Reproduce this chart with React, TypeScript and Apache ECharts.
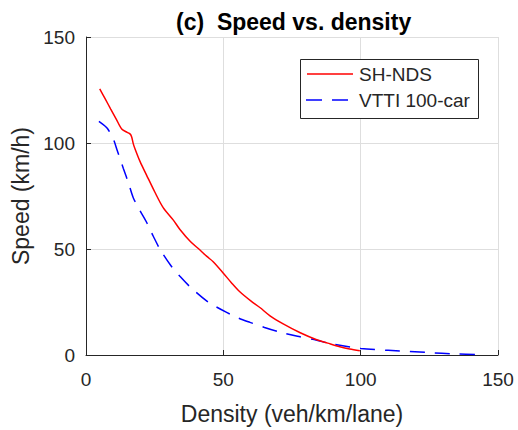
import React, { useEffect, useRef } from "react";
import * as echarts from "echarts";

const titleText = "(c)  Speed vs. density";
const xName = "Density (veh/km/lane)";
const yName = "Speed (km/h)";
const seriesNames = ["SH-NDS", "VTTI 100-car"];

const shDensity = [5, 7, 9, 11, 13, 15, 16, 16.6, 17.2, 17.8, 19.7, 22, 25, 28.1, 31.8, 34.2, 38, 41.5, 44, 46.3, 50, 53, 56, 60, 63.3, 67, 71.8, 78, 84, 88, 92.4, 96, 99.7];
const shSpeed = [125.5, 120.8, 116, 111.3, 106.6, 105, 104.3, 103, 99.7, 97.4, 91.2, 85, 77, 69.5, 63.6, 59.2, 53.5, 49.5, 46.5, 44, 38.6, 34, 29.8, 25.5, 22.4, 18.5, 14.7, 10.5, 7.2, 5.6, 3.9, 2.8, 2];

const vtDensity = [4.7, 6.9, 8, 9.9, 11.5, 13.6, 15.5, 17.2, 19.7, 22.1, 24.5, 26.9, 31, 34.2, 38, 43.9, 47, 51.2, 55, 59.7, 65, 70.6, 77, 84, 88, 92.4, 100, 110, 124, 135, 142.7];
const vtSpeed = [110.2, 108, 106.5, 102, 96, 88, 81, 74.2, 68, 62.5, 56, 50, 42, 37.1, 32, 25.5, 23, 20.1, 17.7, 15.4, 13, 10.8, 8.8, 7, 5.6, 4.6, 3.1, 2.2, 1.2, 0.5, 0.2];

const xTicks = [0, 50, 100, 150];
const yTicks = [0, 50, 100, 150];

const FONT = "'Liberation Sans', Arial, Helvetica, sans-serif";
const AX = "#262626";

export default function App() {
  const ref = useRef<HTMLDivElement>(null);
  useEffect(() => {
    if (!ref.current) return;
    const chart = echarts.init(ref.current, undefined, { renderer: "svg" });
    const sh = shDensity.map((d, i) => [d, shSpeed[i]]);
    const vt = vtDensity.map((d, i) => [d, vtSpeed[i]]);
    chart.setOption({
      animation: false,
      backgroundColor: "#ffffff",
      title: {
        text: titleText,
        left: 171,
        top: 5,
        textStyle: { fontFamily: FONT, fontSize: 23, fontWeight: "bold", color: "#000" },
      },
      grid: { left: 86, right: 20, top: 37, bottom: 70 },
      xAxis: {
        type: "value",
        min: xTicks[0],
        max: xTicks[xTicks.length - 1],
        interval: 50,
        name: xName,
        nameLocation: "middle",
        nameGap: 47,
        nameTextStyle: { fontFamily: FONT, fontSize: 23, color: AX },
        axisLine: { show: true, onZero: false, lineStyle: { color: AX, width: 1 } },
        axisTick: { show: true, inside: true, length: 5, lineStyle: { color: AX } },
        axisLabel: { fontFamily: FONT, fontSize: 19, color: AX, margin: 15 },
        splitLine: { show: true, lineStyle: { color: "#dedede", width: 1 } },
      },
      yAxis: {
        type: "value",
        min: yTicks[0],
        max: yTicks[yTicks.length - 1],
        interval: 50,
        name: yName,
        nameLocation: "middle",
        nameGap: 50,
        nameTextStyle: { fontFamily: FONT, fontSize: 23, color: AX },
        axisLine: { show: true, onZero: false, lineStyle: { color: AX, width: 1 } },
        axisTick: { show: true, inside: true, length: 5, lineStyle: { color: AX } },
        axisLabel: { fontFamily: FONT, fontSize: 19, color: AX, margin: 11 },
        splitLine: { show: true, lineStyle: { color: "#dedede", width: 1 } },
      },
      series: [
        {
          name: seriesNames[0],
          type: "line",
          data: sh,
          symbol: "none",
          smooth: 0.3,
          lineStyle: { color: "#ff0000", width: 1.5 },
          z: 3,
        },
        {
          name: seriesNames[1],
          type: "line",
          data: vt,
          symbol: "none",
          smooth: 0.3,
          lineStyle: { color: "#0000ff", width: 1.5, type: [15, 10] },
          z: 2,
        },
      ],
      graphic: [
        {
          type: "rect",
          shape: { x: 300.5, y: 59.5, width: 178, height: 59 },
          style: { fill: "#ffffff", stroke: AX, lineWidth: 1 },
          z: 10,
        },
        {
          type: "line",
          shape: { x1: 307, y1: 74, x2: 353, y2: 74 },
          style: { stroke: "#ff0000", lineWidth: 1.5 },
          z: 11,
        },
        {
          type: "text",
          x: 359,
          y: 74,
          style: { text: seriesNames[0], fontFamily: FONT, fontSize: 19, fill: AX, verticalAlign: "middle", align: "left" },
          z: 11,
        },
        {
          type: "line",
          shape: { x1: 306, y1: 100, x2: 353, y2: 100 },
          style: { stroke: "#0000ff", lineWidth: 1.5, lineDash: [16, 10] },
          z: 11,
        },
        {
          type: "text",
          x: 359,
          y: 100,
          style: { text: seriesNames[1], fontFamily: FONT, fontSize: 19, fill: AX, verticalAlign: "middle", align: "left" },
          z: 11,
        },
      ],
    });
    return () => chart.dispose();
  }, []);
  return <div ref={ref} style={{ width: 518, height: 430, position: "absolute", left: 0, top: 0 }} />;
}
